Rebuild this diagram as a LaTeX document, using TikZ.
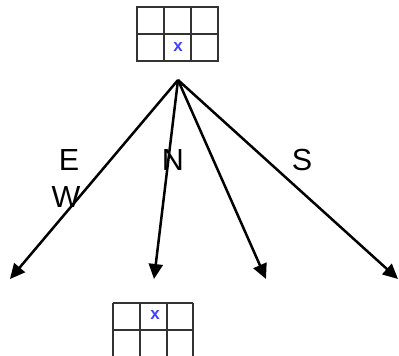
\documentclass[tikz,border=0pt]{standalone}
\usepackage{fontspec}
\setmainfont{Liberation Sans}
\usetikzlibrary{arrows.meta}
\begin{document}
\begin{tikzpicture}[x=1pt,y=-1pt,
  gridline/.style={line width=2.2pt,black!80},
  conn/.style={line width=2.5pt,-{Triangle[length=15pt,width=14pt]}},
  dirlabel/.style={font=\fontsize{30.5}{30.5}\selectfont,inner sep=0pt},
  mark x/.style={font=\bfseries\fontsize{17}{17}\selectfont,text=blue!75,inner sep=0pt}]
\useasboundingbox (0,0) rectangle (399,356);
\clip (0,0) rectangle (399,356);
% top grid
\draw[gridline] (137,7) rectangle (218,61);
\draw[gridline] (137,34) -- (218,34);
\draw[gridline] (164,7) -- (164,61) (191,7) -- (191,61);
\node[mark x] (xtop) at (178,47) {x};
% bottom grid
\draw[gridline] (113,303) -- (193,303) (113,330) -- (193,330);
\draw[gridline] (113,303) -- (113,360) (140,303) -- (140,360) (167,303) -- (167,360) (193,303) -- (193,360);
\node[mark x] (xbot) at (155,315) {x};
% connectors
\coordinate (o) at (178,80);
\coordinate (e1) at (10,279);
\coordinate (e2) at (154,279);
\coordinate (e3) at (266,279);
\coordinate (e4) at (398,279);
\draw[conn] (o) -- (e1);
\draw[conn] (o) -- (e2);
\draw[conn] (o) -- (e3);
\draw[conn] (o) -- (e4);
% labels
\node[dirlabel] (lE) at (69,160) {E};
\node[dirlabel] (lN) at (173,160) {N};
\node[dirlabel] (lS) at (302,160) {S};
\node[dirlabel] (lW) at (66,197.5) {W};
\end{tikzpicture}
\end{document}
